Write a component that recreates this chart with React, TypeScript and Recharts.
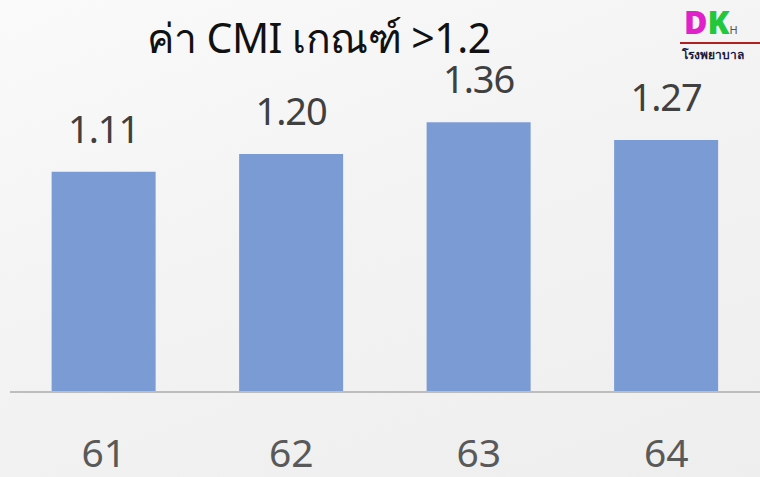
import React from 'react';
import { BarChart, Bar, XAxis, YAxis, LabelList } from 'recharts';

const years = ['61', '62', '63', '64'];
const cmiValues = [1.11, 1.2, 1.36, 1.27];

const data = years.map((year, i) => ({ year, cmi: cmiValues[i] }));

const fontStack = '"Noto Sans", "Open Sans", sans-serif';

export default function App() {
  return (
    <div
      style={{
        position: 'absolute',
        left: 0,
        top: 0,
        width: 760,
        height: 477,
        fontFamily: fontStack,
        background: 'linear-gradient(160deg, #fafafa 0%, #f3f3f3 45%, #eeeeee 100%)',
      }}
    >
      <div
        style={{
          position: 'absolute',
          left: 0,
          width: 638,
          top: 20,
          textAlign: 'center',
          fontSize: 41,
          color: '#111',
          lineHeight: '34px',
          letterSpacing: -0.5,
        }}
      >
        ค่า CMI เกณฑ์ &gt;1.2
      </div>

      {/* hospital logo corner */}
      <div style={{ position: 'absolute', left: 676, top: 0, width: 84, height: 62 }}>
        <div style={{ position: 'absolute', left: 8, top: 0, fontSize: 32, fontWeight: 900, lineHeight: 'normal', whiteSpace: 'nowrap' }}>
          <span style={{ color: '#e020c8' }}>D</span>
          <span style={{ color: '#22c83a' }}>K</span>
          <span style={{ color: '#555', fontSize: 11, fontWeight: 400 }}>H</span>
        </div>
        <div style={{ position: 'absolute', left: 4, top: 42, width: 80, height: 2, background: '#b02020' }} />
        <div
          style={{
            position: 'absolute',
            left: 6,
            top: 45,
            fontSize: 12,
            color: '#1a1a40',
            fontWeight: 700,
            fontFamily: '"DejaVu Serif", serif',
          }}
        >
          โรงพยาบาล
        </div>
      </div>

      <div style={{ position: 'absolute', left: 0, top: 0 }}>
        <BarChart
          width={760}
          height={477}
          data={data}
          margin={{ top: 94.5, right: 0, bottom: 0, left: 10 }}
          barCategoryGap="22.2%"
        >
          <XAxis
            dataKey="year"
            height={85}
            tickLine={false}
            axisLine={{ stroke: '#bdbdbd', strokeWidth: 2 }}
            tick={{ fontSize: 39, fill: '#595959', fontFamily: fontStack }}
            tickMargin={41}
            interval={0}
          />
          <YAxis hide domain={[0, 1.5]} />
          <Bar dataKey="cmi" fill="#7b9bd4" isAnimationActive={false}>
            <LabelList
              dataKey="cmi"
              position="top"
              offset={29}
              formatter={(v: any) => Number(v).toFixed(2)}
              style={{ fontSize: 38, fill: '#404040', fontFamily: fontStack, letterSpacing: -1 }}
            />
          </Bar>
        </BarChart>
      </div>
    </div>
  );
}
